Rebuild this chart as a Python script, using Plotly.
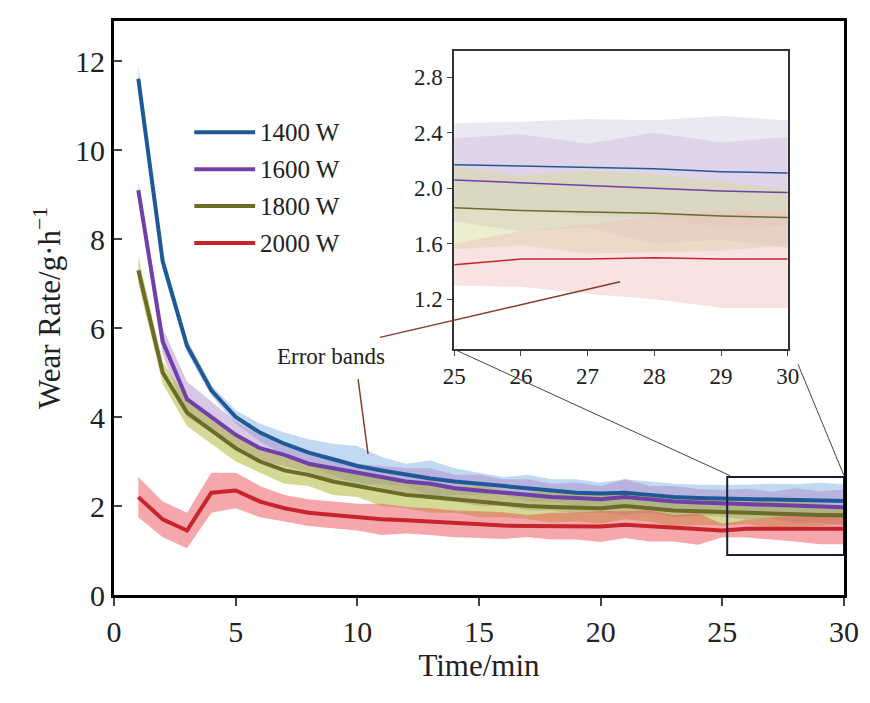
import plotly.graph_objects as go

time = list(range(1, 31))
w1400 = [11.6, 7.5, 5.6, 4.6, 4.0, 3.65, 3.4, 3.2, 3.05, 2.9, 2.8, 2.7, 2.62, 2.55, 2.5, 2.45, 2.4, 2.35, 2.3, 2.28, 2.3, 2.25, 2.2, 2.18, 2.17, 2.16, 2.15, 2.14, 2.12, 2.11]
e1400 = [0.3, 0.2, 0.15, 0.12, 0.15, 0.2, 0.25, 0.3, 0.35, 0.45, 0.3, 0.25, 0.4, 0.3, 0.25, 0.2, 0.3, 0.25, 0.3, 0.25, 0.3, 0.3, 0.3, 0.3, 0.3, 0.32, 0.35, 0.35, 0.4, 0.38]
w1600 = [9.1, 5.7, 4.4, 4.0, 3.6, 3.3, 3.15, 2.95, 2.85, 2.75, 2.65, 2.55, 2.5, 2.4, 2.35, 2.3, 2.25, 2.2, 2.18, 2.15, 2.2, 2.15, 2.1, 2.08, 2.06, 2.04, 2.02, 2.0, 1.98, 1.97]
e1600 = [0.2, 0.3, 0.4, 0.35, 0.3, 0.3, 0.25, 0.2, 0.25, 0.2, 0.25, 0.3, 0.35, 0.3, 0.35, 0.3, 0.35, 0.3, 0.35, 0.3, 0.4, 0.3, 0.35, 0.3, 0.3, 0.35, 0.3, 0.4, 0.35, 0.4]
w1800 = [7.3, 5.0, 4.1, 3.7, 3.3, 3.0, 2.8, 2.7, 2.55, 2.45, 2.35, 2.25, 2.2, 2.15, 2.1, 2.05, 2.0, 1.98, 1.96, 1.95, 2.0, 1.95, 1.9, 1.88, 1.86, 1.84, 1.83, 1.82, 1.8, 1.79]
e1800 = [0.3, 0.25, 0.3, 0.3, 0.3, 0.25, 0.3, 0.25, 0.3, 0.25, 0.35, 0.3, 0.35, 0.3, 0.35, 0.3, 0.3, 0.35, 0.3, 0.35, 0.3, 0.3, 0.35, 0.3, 0.3, 0.25, 0.3, 0.28, 0.25, 0.2]
w2000 = [2.2, 1.7, 1.45, 2.3, 2.35, 2.1, 1.95, 1.85, 1.8, 1.75, 1.7, 1.68, 1.65, 1.6, 1.58, 1.56, 1.55, 1.55, 1.55, 1.54, 1.58, 1.55, 1.5, 1.48, 1.45, 1.49, 1.49, 1.5, 1.49, 1.49]
e2000 = [0.45, 0.4, 0.4, 0.45, 0.4, 0.35, 0.3, 0.3, 0.3, 0.3, 0.35, 0.3, 0.3, 0.3, 0.3, 0.3, 0.25, 0.3, 0.3, 0.35, 0.3, 0.35, 0.3, 0.35, 0.15, 0.2, 0.25, 0.3, 0.35, 0.35]
labels = ["1400 W", "1600 W", "1800 W", "2000 W"]

series = [w1400, w1600, w1800, w2000]
errs = [e1400, e1600, e1800, e2000]
lcol = ["#1f5a96", "#7040a8", "#6b6b2a", "#c8242b"]
fcol = ["rgba(100,160,220,0.4)", "rgba(170,130,200,0.45)", "rgba(170,180,40,0.5)", "rgba(235,80,90,0.5)"]
icol = ["rgba(200,200,220,0.4)", "rgba(210,180,220,0.4)", "rgba(210,220,150,0.45)", "rgba(240,190,190,0.45)"]
FONT = "Liberation Serif"

fig = go.Figure()
for k in range(4):
    y, e = series[k], errs[k]
    for ax, col, xs in [("", fcol[k], time), ("2", icol[k], time[24:])]:
        i0 = 0 if ax == "" else 24
        ys, es = y[i0:], e[i0:]
        fig.add_trace(go.Scatter(x=xs + xs[::-1], y=[a + b for a, b in zip(ys, es)] + [a - b for a, b in zip(ys, es)][::-1],
                                 fill="toself", fillcolor=col, line=dict(width=0), mode="lines",
                                 showlegend=False, xaxis="x" + ax, yaxis="y" + ax, hoverinfo="skip"))
for k in range(4):
    fig.add_trace(go.Scatter(x=time, y=series[k], mode="lines", line=dict(color=lcol[k], width=4), showlegend=False))
    fig.add_trace(go.Scatter(x=time[24:], y=series[k][24:], mode="lines", line=dict(color=lcol[k], width=1.5),
                             showlegend=False, xaxis="x2", yaxis="y2"))

shapes = []
annotations = []
for k in range(4):
    yy = 10.4 - k * 0.83
    shapes.append(dict(type="line", xref="x", yref="y", x0=3.3, x1=5.8, y0=yy, y1=yy, line=dict(color=lcol[k], width=4)))
    annotations.append(dict(x=5.9, y=yy, xref="x", yref="y", text=labels[k], showarrow=False, xanchor="left",
                            font=dict(family=FONT, size=25, color="#222")))
shapes.append(dict(type="rect", xref="x", yref="y", x0=25.2, x1=30, y0=0.9, y1=2.65, line=dict(color="#1c1c3c", width=2)))
shapes.append(dict(type="line", xref="paper", yref="paper", x0=0.466, y0=0.428, x1=(722 - 106) / 730, y1=(587 - 467) / 577, line=dict(color="#444", width=1)))
shapes.append(dict(type="line", xref="paper", yref="paper", x0=(790 - 106) / 730, y0=(587 - 355) / 577, x1=1.0, y1=(587 - 467) / 577, line=dict(color="#444", width=1)))
shapes.append(dict(type="line", xref="x", yref="y", x0=10.03, y0=4.85, x1=10.44, y1=3.17, line=dict(color="#8b3a2a", width=1.5)))
shapes.append(dict(type="line", xref="x", yref="y", x0=10.93, y0=5.79, x1=20.8, y1=7.04, line=dict(color="#8b3a2a", width=1.5)))
annotations.append(dict(x=8.9, y=5.35, xref="x", yref="y", text="Error bands", showarrow=False,
                        font=dict(family=FONT, size=23, color="#222")))

fig.update_layout(
    width=870, height=703, margin=dict(l=106, r=34, t=10, b=116),
    plot_bgcolor="white", paper_bgcolor="white", showlegend=False,
    font=dict(family=FONT, color="#222"),
    xaxis=dict(range=[0, 30], tickvals=[0, 5, 10, 15, 20, 25, 30], ticks="outside", ticklen=8, tickwidth=2,
               showline=True, linewidth=3, linecolor="black", mirror=True, showgrid=False, zeroline=False,
               tickfont=dict(size=30), title=dict(text="Time/min", font=dict(size=31), standoff=2)),
    yaxis=dict(range=[0, 12.9], tickvals=[0, 2, 4, 6, 8, 10, 12], ticks="inside", ticklen=8, tickwidth=2,
               showline=True, linewidth=3, linecolor="black", mirror=True, showgrid=False, zeroline=False,
               tickfont=dict(size=30), title=dict(text="Wear Rate/g·h<sup>−1</sup>", font=dict(size=31), standoff=6)),
    xaxis2=dict(domain=[0.466, 0.923], anchor="y2", range=[25, 30], tickvals=[25, 26, 27, 28, 29, 30], ticks="outside",
                ticklen=5, showline=True, linewidth=1.5, linecolor="#333", mirror=True, showgrid=False, zeroline=False,
                tickfont=dict(size=23)),
    yaxis2=dict(domain=[0.428, 0.948], anchor="x2", range=[0.84, 2.99], tickvals=[1.2, 1.6, 2.0, 2.4, 2.8],
                tickformat=".1f", ticks="outside", ticklen=5, showline=True, linewidth=1.5, linecolor="#333", mirror=True,
                showgrid=False, zeroline=False, tickfont=dict(size=23)),
    shapes=shapes, annotations=annotations,
)
fig.write_html("out.html")
